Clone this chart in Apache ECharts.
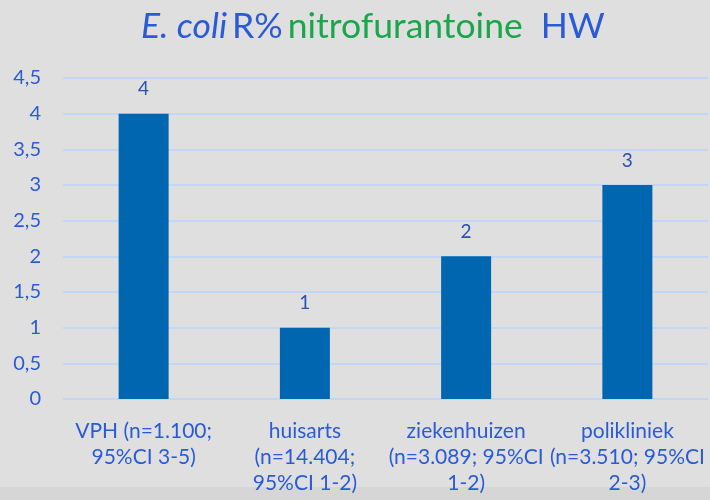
<!DOCTYPE html>
<html>
<head>
<meta charset="utf-8">
<script src="https://cdn.jsdelivr.net/npm/echarts@6/dist/echarts.min.js"></script>
<style>
  html, body { margin: 0; padding: 0; background: #dfdfdf; }
  #chart { width: 710px; height: 500px; }
</style>
</head>
<body>
<div id="chart"></div>
<script>
// data
var categories = [
  'VPH (n=1.100;\n95%CI 3-5)',
  'huisarts\n(n=14.404;\n95%CI 1-2)',
  'ziekenhuizen\n(n=3.089; 95%CI\n1-2)',
  'polikliniek\n(n=3.510; 95%CI\n2-3)'
];
var values = [4, 1, 2, 3];
var yTicks = [0, 0.5, 1, 1.5, 2, 2.5, 3, 3.5, 4, 4.5];

var blue = '#2a5bd7';
var chart = echarts.init(document.getElementById('chart'));
chart.setOption({
  backgroundColor: '#dfdfdf',
  animation: false,
  graphic: [{
    type: 'rect',
    left: 0, top: 487,
    shape: { width: 710, height: 13 },
    style: { fill: '#d6d6d6' },
    z: -1
  }],
  title: {
    left: 136,
    top: 4,
    text: '{i|E. coli} {b|R%} {g|nitrofurantoine}{b|  HW}',
    textStyle: {
      fontWeight: 'normal',
      rich: {
        i: { fontFamily: 'Lato', fontStyle: 'italic', fontWeight: 'normal', fontSize: 35.5, color: '#2a5bd7' },
        b: { fontFamily: 'Lato', fontWeight: 'normal', fontSize: 35.5, color: '#2a5bd7' },
        g: { fontFamily: 'Lato', fontWeight: 'normal', fontSize: 35.5, color: '#1aa64a' }
      }
    }
  },
  grid: { left: 63, right: 2, top: 78, bottom: 101 },
  xAxis: {
    type: 'category',
    data: categories,
    axisLine: { show: false },
    axisTick: { show: false },
    axisLabel: {
      color: blue, fontFamily: 'Lato', fontSize: 21,
      lineHeight: 26, margin: 19, interval: 0
    }
  },
  yAxis: {
    type: 'value',
    min: 0, max: 4.5, interval: 0.5,
    axisLabel: {
      color: blue, fontFamily: 'Lato', fontSize: 20, margin: 22,
      formatter: function (v) {
        return yTicks.indexOf(v) >= 0 ? String(v).replace('.', ',') : '';
      }
    },
    splitLine: { lineStyle: { color: '#c4d6f5', width: 2 } }
  },
  series: [{
    type: 'bar',
    data: values,
    barWidth: 50,
    itemStyle: { color: '#0066b0' },
    label: {
      show: true, position: 'top', distance: 15,
      color: '#2a4fb5', fontFamily: 'Lato', fontSize: 19
    }
  }]
});
</script>
</body>
</html>
